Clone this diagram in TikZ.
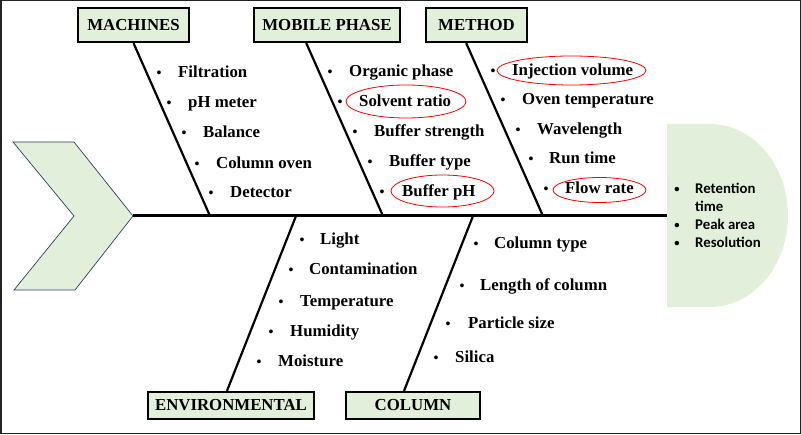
\documentclass[tikz,border=0pt]{standalone}
\usepackage{fontspec}
\setmainfont{Liberation Serif}
\newfontfamily\effont{Carlito}
\usetikzlibrary{calc}
\definecolor{boxgreen}{HTML}{E2EFDA}
\definecolor{chevline}{HTML}{2F3F5A}
\definecolor{framegray}{HTML}{222222}
\begin{document}
\begin{tikzpicture}[x=1pt,y=-1pt,
  lbl/.style={draw=black, line width=2.2pt, fill=boxgreen, inner sep=0pt,
    font=\bfseries\fontsize{16.8}{20}\selectfont},
  itm/.style={inner sep=0pt, anchor=base west, font=\bfseries\fontsize{16.8}{20}\selectfont},
  bul/.style={inner sep=0pt, anchor=base, font=\bfseries\fontsize{14}{16}\selectfont},
  eitm/.style={inner sep=0pt, anchor=base west, font=\effont\bfseries\fontsize{14.8}{17}\selectfont},
  ebul/.style={inner sep=0pt, anchor=base, font=\effont\bfseries\fontsize{10.5}{12}\selectfont},
  bone/.style={line width=2.2pt, black},
  ring/.style={draw=red, line width=0.8pt}]
\useasboundingbox (0,0) rectangle (801,435);
\draw[framegray, line width=1.5pt] (0.75,0.75) rectangle (800.25,433.5);

% head (effect) shape
\fill[boxgreen] (667,124) -- (710,124) arc[start angle=-90, end angle=90, x radius=78, y radius=91.5] -- (667,307) -- cycle;
% tail chevron
\draw[chevline, fill=boxgreen, line width=0.7pt] (13,142) -- (74,142) -- (133,216) -- (75,290) -- (14,290) -- (74,216) -- cycle;

\coordinate (tip) at (133,216);
\coordinate (eff) at (667,216);
\coordinate (s1) at (210,216);
\coordinate (s2) at (383,216);
\coordinate (s3) at (543,216);
\coordinate (s4) at (296,216);
\coordinate (s5) at (473,216);

% category boxes
\node[lbl, minimum width=111pt, minimum height=34pt] (mach) at (133.5,25) {MACHINES};
\node[lbl, minimum width=146pt, minimum height=34pt] (mob) at (327,25) {MOBILE PHASE};
\node[lbl, minimum width=101pt, minimum height=34pt] (meth) at (476.5,25) {METHOD};
\node[lbl, minimum width=166pt, minimum height=27pt] (env) at (231,405.5) {ENVIRONMENTAL};
\node[lbl, line width=1.6pt, minimum width=134.5pt, minimum height=27.5pt] (col) at (413,405.5) {COLUMN};

% spine and bones
\draw[line width=3pt] (tip) -- (eff);
\draw[bone] ($(mach.south west)!0.5!(mach.south east)$) -- (s1);
\draw[bone] ($(mob.south west)!0.36!(mob.south east)$) -- (s2);
\draw[bone] ($(meth.south west)!0.40!(meth.south east)$) -- (s3);
\draw[bone] (s4) -- ($(env.north west)!0.476!(env.north east)$);
\draw[bone] (s5) -- ($(col.north west)!0.434!(col.north east)$);

% MACHINES items
\node[bul] (b11) at (159,78) {•}; \node[itm] (t11) at (178,78) {Filtration};
\node[bul] (b12) at (169,108) {•}; \node[itm] (t12) at (188,108) {pH meter};
\node[bul] (b13) at (184,138) {•}; \node[itm] (t13) at (203,138) {Balance};
\node[bul] (b14) at (197,169) {•}; \node[itm] (t14) at (216,169) {Column oven};
\node[bul] (b15) at (211,198) {•}; \node[itm] (t15) at (230,198) {Detector};

% MOBILE PHASE items
\node[bul] (b21) at (330,77) {•}; \node[itm] (t21) at (349,77) {Organic phase};
\node[bul] (b22) at (340,107) {•}; \node[itm] (t22) at (359,107) {Solvent ratio};
\node[bul] (b23) at (355,137) {•}; \node[itm] (t23) at (374,137) {Buffer strength};
\node[bul] (b24) at (370,167) {•}; \node[itm] (t24) at (389,167) {Buffer type};
\node[bul] (b25) at (382,197) {•}; \node[itm] (t25) at (402,197) {Buffer pH};

% METHOD items
\node[bul] (b31) at (493,76) {•}; \node[itm] (t31) at (512,76) {Injection volume};
\node[bul] (b32) at (503,105) {•}; \node[itm] (t32) at (522,105) {Oven temperature};
\node[bul] (b33) at (518,135) {•}; \node[itm] (t33) at (537,135) {Wavelength};
\node[bul] (b34) at (531,164) {•}; \node[itm] (t34) at (549,164) {Run time};
\node[bul] (b35) at (546,194) {•}; \node[itm] (t35) at (565,194) {Flow rate};

% ENVIRONMENTAL items
\node[bul] (b41) at (302,245) {•}; \node[itm] (t41) at (320,245) {Light};
\node[bul] (b42) at (291,275) {•}; \node[itm] (t42) at (309,275) {Contamination};
\node[bul] (b43) at (281,307) {•}; \node[itm] (t43) at (300,307) {Temperature};
\node[bul] (b44) at (271,337) {•}; \node[itm] (t44) at (290,337) {Humidity};
\node[bul] (b45) at (259,367) {•}; \node[itm] (t45) at (278,367) {Moisture};

% COLUMN items
\node[bul] (b51) at (476,249) {•}; \node[itm] (t51) at (494,249) {Column type};
\node[bul] (b52) at (462,291) {•}; \node[itm] (t52) at (480,291) {Length of column};
\node[bul] (b53) at (448,329) {•}; \node[itm] (t53) at (468,329) {Particle size};
\node[bul] (b54) at (436,363) {•}; \node[itm] (t54) at (455,363) {Silica};

% red rings
\draw[ring] (406,101.5) ellipse [x radius=60, y radius=16.5];
\draw[ring] (442.5,191) ellipse [x radius=51.5, y radius=16];
\draw[ring] (571.5,70.5) ellipse [x radius=74.5, y radius=14.5];
\draw[ring] (599.5,190) ellipse [x radius=46.5, y radius=12.5];

% effect items
\node[ebul] (e1) at (677,193) {•}; \node[eitm] (f1) at (695,194) {Retention};
\node[eitm] (f1b) at (695,212) {time};
\node[ebul] (e2) at (677,229) {•}; \node[eitm] (f2) at (695,230) {Peak area};
\node[ebul] (e3) at (677,247) {•}; \node[eitm] (f3) at (695,248) {Resolution};
\end{tikzpicture}
\end{document}
